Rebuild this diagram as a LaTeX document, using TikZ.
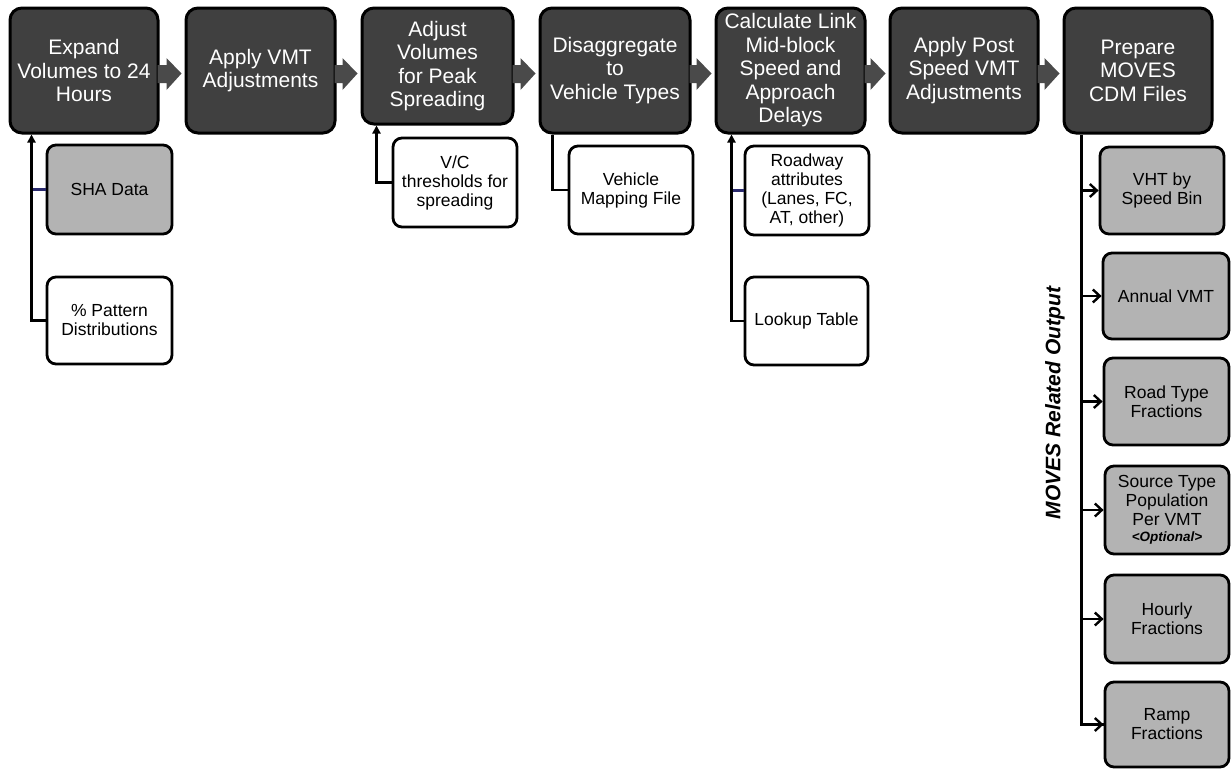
\documentclass[tikz,border=0pt]{standalone}
\usepackage{fontspec}
\setmainfont{Liberation Sans}
\usetikzlibrary{calc,arrows.meta}

\definecolor{stepfill}{HTML}{404040}
\definecolor{chevfill}{HTML}{4A4A4A}
\definecolor{datafill}{HTML}{B3B3B3}
\definecolor{tickblue}{HTML}{2A2A6E}

\tikzset{
  stepbox/.style={draw=black, line width=3pt, fill=stepfill, rounded corners=12pt,
    text=white, align=center, inner sep=2pt,
    font=\fontsize{21}{23.5}\selectfont},
  inbox/.style={draw=black, line width=2.8pt, rounded corners=9pt, align=center,
    inner sep=2pt, font=\fontsize{17.5}{19}\selectfont},
  greybox/.style={inbox, fill=datafill},
  whitebox/.style={inbox, fill=white},
  chev/.style={fill=chevfill},
  feed/.style={draw=black, line width=2.4pt},
  feedarrow/.style={feed, -{Triangle[length=8pt,width=8pt]}},
  outarrow/.style={feed, -{Straight Barb[length=7pt,width=13pt]}},
  tick/.style={draw=tickblue, line width=2.4pt},
}

\newcommand{\chevron}[2]{%
  \fill[chev] ($(#1.east |- 0,65)+(-2,0)$) -- ($(#2.west |- 0,65)+(-18,0)$)
    -- ($(#2.west |- 0,58)+(-18,0)$) -- ($(#2.west |- 0,73.5)+(-3,0)$)
    -- ($(#2.west |- 0,90)+(-18,0)$) -- ($(#2.west |- 0,83)+(-18,0)$)
    -- ($(#1.east |- 0,83)+(-2,0)$) -- cycle;}

\begin{document}
\begin{tikzpicture}[x=1pt, y=-1pt]
\useasboundingbox (0,0) rectangle (1231,769);

% process steps along the top
\node[stepbox, minimum width=148pt, minimum height=125pt] (b1) at (84,70.5) {Expand\\Volumes to 24\\Hours};
\node[stepbox, minimum width=149pt, minimum height=125pt] (b2) at (260.5,70.5) {Apply VMT\\Adjustments};
\node[stepbox, minimum width=151pt, minimum height=116pt] (b3) at (437.5,66) {Adjust\\Volumes\\for Peak\\Spreading};
\node[stepbox, minimum width=150pt, minimum height=125pt] (b4) at (615,70.5) {Disaggregate\\to\\Vehicle Types};
\node[stepbox, minimum width=149pt, minimum height=125pt] (b5) at (790.5,70.5) {Calculate Link\\Mid-block\\Speed and\\Approach\\Delays};
\node[stepbox, minimum width=148pt, minimum height=125pt] (b6) at (964,70.5) {Apply Post\\Speed VMT\\Adjustments};
\node[stepbox, minimum width=148pt, minimum height=125pt] (b7) at (1138,70.5) {Prepare\\MOVES\\CDM Files};

% block arrows between steps
\chevron{b1}{b2}
\chevron{b2}{b3}
\chevron{b3}{b4}
\chevron{b4}{b5}
\chevron{b5}{b6}
\chevron{b6}{b7}

% inputs
\node[greybox, minimum width=125pt, minimum height=89pt] (sha) at (109.5,189.5) {SHA Data};
\node[whitebox, minimum width=125pt, minimum height=87pt] (pat) at (109.5,320.5) {\% Pattern\\Distributions};
\node[whitebox, minimum width=124pt, minimum height=89pt] (vc) at (455,182.5) {V/C\\thresholds for\\spreading};
\node[whitebox, minimum width=124pt, minimum height=88pt] (vmf) at (631,190) {Vehicle\\Mapping File};
\node[whitebox, minimum width=124pt, minimum height=89pt] (rwa) at (807,190.5) {Roadway\\attributes\\(Lanes, FC,\\AT, other)};
\node[whitebox, minimum width=123pt, minimum height=88pt] (lkp) at (806.5,321) {Lookup Table};

% input connectors
\coordinate (j1) at ($(b1.south west)+(23,0)$);
\coordinate (j3) at ($(b3.south west)+(16,0)$);
\coordinate (j4) at ($(b4.south west)+(14,0)$);
\coordinate (j5) at ($(b5.south west)+(17,0)$);
\draw[tick] (sha.west) -- (sha.west -| j1);
\draw[tick] (rwa.west) -- (rwa.west -| j5);
\draw[feedarrow] (pat.west) -| (j1);
\draw[feedarrow] (vc.west) -| (j3);
\draw[feed] (vmf.west) -| (j4);
\draw[feedarrow] (lkp.west) -| (j5);

% outputs
\node[greybox, minimum width=124pt, minimum height=87pt] (vht) at (1162,190.5) {VHT by\\Speed Bin};
\node[greybox, minimum width=126pt, minimum height=86pt] (avmt) at (1166,296) {Annual VMT};
\node[greybox, minimum width=125pt, minimum height=87pt] (rtf) at (1166.5,401.5) {Road Type\\Fractions};
\node[greybox, minimum width=124pt, minimum height=88pt] (stp) at (1167,510)
  {Source Type\\Population\\Per VMT\\[-3pt]{\fontsize{13.5}{14}\selectfont\bfseries\itshape <Optional>}};
\node[greybox, minimum width=124pt, minimum height=88pt] (hrf) at (1167,619) {Hourly\\Fractions};
\node[greybox, minimum width=124pt, minimum height=85pt] (rmp) at (1167,724.5) {Ramp\\Fractions};

\coordinate (spine) at ($(b7.south west)+(19,0)$);
\draw[feed] (spine) |- (rmp.west);
\draw[outarrow] (spine |- vht.west) -- (vht.west);
\draw[outarrow] (spine |- avmt.west) -- (avmt.west);
\draw[outarrow] (spine |- rtf.west) -- (rtf.west);
\draw[outarrow] (spine |- stp.west) -- (stp.west);
\draw[outarrow] (spine |- hrf.west) -- (hrf.west);
\draw[outarrow] (spine |- rmp.west) -- (rmp.west);

\node[rotate=90, font=\fontsize{21}{24}\selectfont\bfseries\itshape] (outlbl) at (1055,403) {MOVES Related Output};
\end{tikzpicture}
\end{document}
